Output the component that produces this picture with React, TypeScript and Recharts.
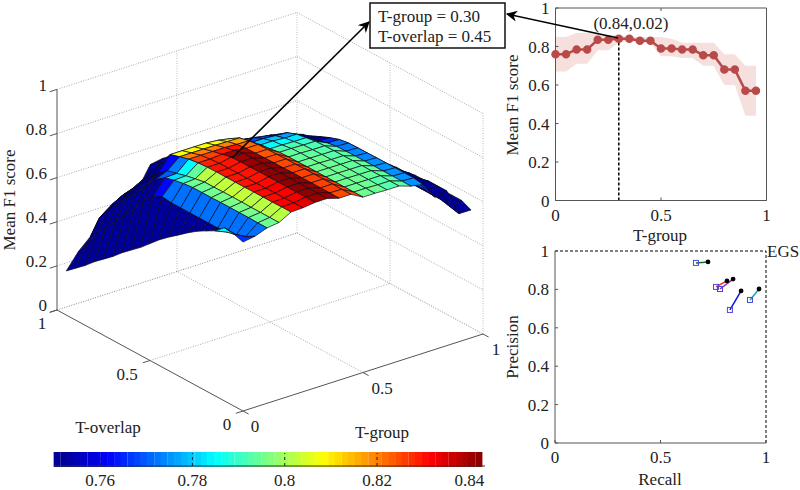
// App.tsx: 3D parameter sweep surface, best-overlap profile and precision/recall panel

import React from "react";
import {
  Area,
  Bar,
  BarChart,
  Cell,
  ComposedChart,
  Line,
  ReferenceLine,
  Scatter,
  ScatterChart,
  XAxis,
  YAxis,
} from "recharts";

// --- Data ---

const tGroup = [0, 0.05, 0.1, 0.15, 0.2, 0.25, 0.3, 0.35, 0.4, 0.45, 0.5, 0.55, 0.6, 0.65, 0.7, 0.75, 0.8, 0.85, 0.9, 0.95];
const tOverlap = [0, 0.05, 0.1, 0.15, 0.2, 0.25, 0.3, 0.35, 0.4, 0.45, 0.5, 0.55, 0.6, 0.65, 0.7, 0.75, 0.8, 0.85, 0.9, 0.95];

// one row per T-overlap, one column per T-group
const meanF1 = [
  [0.766, 0.775, 0.795, 0.802, 0.832, 0.834, 0.841, 0.841, 0.825, 0.825, 0.795, 0.795, 0.793, 0.793, 0.775, 0.765, 0.69, 0.7, 0.58, 0.58],
  [0.78, 0.75, 0.795, 0.802, 0.832, 0.833, 0.842, 0.842, 0.826, 0.825, 0.795, 0.795, 0.793, 0.793, 0.775, 0.772, 0.7, 0.7, 0.59, 0.6],
  [0.785, 0.735, 0.796, 0.802, 0.831, 0.832, 0.842, 0.842, 0.826, 0.826, 0.795, 0.795, 0.794, 0.794, 0.775, 0.772, 0.7, 0.7, 0.6, 0.6],
  [0.748, 0.725, 0.796, 0.802, 0.831, 0.832, 0.842, 0.842, 0.826, 0.826, 0.795, 0.795, 0.794, 0.794, 0.775, 0.772, 0.69, 0.69, 0.6, 0.6],
  [0.725, 0.72, 0.796, 0.803, 0.831, 0.831, 0.842, 0.842, 0.826, 0.826, 0.795, 0.795, 0.794, 0.794, 0.775, 0.772, 0.69, 0.69, 0.6, 0.6],
  [0.7, 0.72, 0.796, 0.803, 0.83, 0.83, 0.842, 0.842, 0.826, 0.826, 0.795, 0.795, 0.794, 0.794, 0.774, 0.772, 0.68, 0.68, 0.6, 0.6],
  [0.67, 0.72, 0.795, 0.803, 0.83, 0.83, 0.842, 0.842, 0.825, 0.825, 0.795, 0.795, 0.793, 0.793, 0.774, 0.771, 0.68, 0.68, 0.6, 0.6],
  [0.637, 0.72, 0.795, 0.802, 0.83, 0.83, 0.841, 0.841, 0.825, 0.825, 0.794, 0.794, 0.793, 0.793, 0.773, 0.771, 0.67, 0.67, 0.59, 0.59],
  [0.605, 0.72, 0.795, 0.802, 0.83, 0.83, 0.841, 0.841, 0.824, 0.824, 0.794, 0.794, 0.792, 0.792, 0.772, 0.77, 0.67, 0.67, 0.59, 0.59],
  [0.57, 0.72, 0.79, 0.794, 0.829, 0.829, 0.84, 0.84, 0.823, 0.823, 0.792, 0.792, 0.79, 0.79, 0.765, 0.763, 0.66, 0.66, 0.58, 0.58],
  [0.53, 0.725, 0.782, 0.785, 0.826, 0.826, 0.83, 0.83, 0.822, 0.822, 0.785, 0.785, 0.783, 0.783, 0.75, 0.748, 0.65, 0.65, 0.57, 0.57],
  [0.49, 0.7, 0.77, 0.773, 0.82, 0.82, 0.82, 0.82, 0.817, 0.816, 0.78, 0.78, 0.776, 0.776, 0.73, 0.73, 0.64, 0.64, 0.56, 0.56],
  [0.455, 0.66, 0.74, 0.762, 0.808, 0.808, 0.808, 0.808, 0.807, 0.806, 0.768, 0.768, 0.764, 0.76, 0.71, 0.71, 0.63, 0.63, 0.56, 0.56],
  [0.42, 0.6, 0.69, 0.73, 0.795, 0.795, 0.795, 0.795, 0.79, 0.78, 0.755, 0.75, 0.74, 0.73, 0.69, 0.69, 0.62, 0.62, 0.55, 0.55],
  [0.38, 0.55, 0.634, 0.68, 0.73, 0.74, 0.74, 0.74, 0.74, 0.74, 0.72, 0.72, 0.7, 0.69, 0.66, 0.66, 0.61, 0.61, 0.54, 0.54],
  [0.345, 0.5, 0.59, 0.63, 0.67, 0.68, 0.69, 0.7, 0.7, 0.7, 0.69, 0.68, 0.67, 0.66, 0.64, 0.64, 0.6, 0.6, 0.54, 0.54],
  [0.31, 0.45, 0.54, 0.58, 0.61, 0.62, 0.64, 0.66, 0.66, 0.66, 0.65, 0.65, 0.64, 0.63, 0.61, 0.61, 0.58, 0.58, 0.53, 0.53],
  [0.27, 0.4, 0.49, 0.53, 0.55, 0.56, 0.58, 0.62, 0.62, 0.62, 0.62, 0.61, 0.6, 0.59, 0.58, 0.58, 0.55, 0.55, 0.53, 0.52],
  [0.235, 0.33, 0.43, 0.47, 0.5, 0.51, 0.53, 0.59, 0.59, 0.59, 0.59, 0.58, 0.57, 0.56, 0.55, 0.55, 0.53, 0.53, 0.52, 0.51],
  [0.2, 0.27, 0.32, 0.375, 0.43, 0.445, 0.47, 0.56, 0.57, 0.57, 0.57, 0.56, 0.55, 0.54, 0.53, 0.53, 0.52, 0.52, 0.5, 0.49],
];

// shade of the cells next to the T-group = 0.05 line, which read lighter than their height
const secondColumnShade = [0.772, 0.772, 0.772, 0.772, 0.772, 0.772, 0.772, 0.772, 0.772, 0.772, 0.762, 0.752, 0.7, 0.7, 0.7, 0.7, 0.7, 0.7, 0.7];

const colorLevels = [
  0.7507, 0.7522, 0.7536, 0.7551, 0.7565, 0.758, 0.7594, 0.7609, 0.7623, 0.7638, 0.7652, 0.7667, 0.7681, 0.7696, 0.771, 0.7725,
  0.7739, 0.7754, 0.7768, 0.7783, 0.7797, 0.7812, 0.7826, 0.7841, 0.7855, 0.787, 0.7884, 0.7899, 0.7913, 0.7928, 0.7942, 0.7957,
  0.7971, 0.7986, 0.8, 0.8015, 0.8029, 0.8044, 0.8058, 0.8073, 0.8087, 0.8102, 0.8116, 0.8131, 0.8145, 0.816, 0.8174, 0.8189,
  0.8203, 0.8218, 0.8232, 0.8247, 0.8261, 0.8276, 0.829, 0.8305, 0.8319, 0.8334, 0.8348, 0.8363, 0.8377, 0.8392, 0.8406, 0.8421,
];
const colorTicks = [0.76, 0.78, 0.8, 0.82, 0.84];

const bestScore = [0.76, 0.76, 0.785, 0.785, 0.835, 0.835, 0.84, 0.84, 0.83, 0.83, 0.79, 0.79, 0.785, 0.785, 0.755, 0.755, 0.68, 0.68, 0.57, 0.57];
const bestLow = [0.67, 0.67, 0.71, 0.71, 0.78, 0.78, 0.82, 0.83, 0.82, 0.82, 0.75, 0.75, 0.74, 0.74, 0.7, 0.7, 0.6, 0.6, 0.44, 0.44];
const bestHigh = [0.85, 0.85, 0.87, 0.87, 0.87, 0.86, 0.86, 0.85, 0.85, 0.85, 0.85, 0.84, 0.82, 0.82, 0.82, 0.82, 0.76, 0.76, 0.7, 0.7];

const recallEnd = [0.725, 0.815, 0.844, 0.882, 0.967];
const precisionEnd = [0.943, 0.844, 0.854, 0.792, 0.802];
const recallStart = [0.668, 0.763, 0.782, 0.829, 0.924];
const precisionStart = [0.938, 0.813, 0.802, 0.693, 0.745];
const linkColors = ["#0a7a1e", "#e0302a", "#a020c0", "#1414d8", "#18a8b8"];

const fitRows = tGroup.map((g, i) => ({ g, score: bestScore[i], band: [bestLow[i], bestHigh[i]] }));
const startPoints = recallStart.map((r, i) => ({ r, p: precisionStart[i] }));
const endPoints = recallEnd.map((r, i) => ({ r, p: precisionEnd[i] }));
const colorRows = colorLevels.map((level) => ({ level, v: 1 }));

// --- Helpers ---

const SERIF = '"Liberation Serif", serif';
const AXIS = "#555";
const GRID = "#aaa";

// parallel projection of the box: origin, then the pixel vectors of the three axes
const project = (g: number, o: number, z: number) => ({
  x: 243 + 240 * g - 186 * o,
  y: 411 - 77 * g - 101 * o - 220.6 * z,
});

const jet = (value: number) => {
  const t = Math.max(0.025, Math.min(1, (value - 0.75) / 0.0934));
  const ch = (c: number) => Math.round(255 * Math.max(0, Math.min(1, 1.5 - Math.abs(4 * t - c))));
  return `rgb(${ch(3)},${ch(2)},${ch(1)})`;
};

const cells: any[] = [];
for (let r = tOverlap.length - 2; r >= 0; r--) {
  for (let c = tGroup.length - 2; c >= 0; c--) {
    const corners = [
      project(tGroup[c], tOverlap[r], meanF1[r][c]),
      project(tGroup[c + 1], tOverlap[r], meanF1[r][c + 1]),
      project(tGroup[c + 1], tOverlap[r + 1], meanF1[r + 1][c + 1]),
      project(tGroup[c], tOverlap[r + 1], meanF1[r + 1][c]),
    ];
    cells.push({
      px: corners[0].x,
      py: corners[0].y,
      corners,
      fill: jet(c === 1 ? secondColumnShade[r] : meanF1[r][c]),
    });
  }
}

const SurfaceCell = (props: any) => {
  const { cx, cy, payload } = props;
  const points = payload.corners
    .map((p: any) => `${cx + p.x - payload.px},${cy + p.y - payload.py}`)
    .join(" ");
  return <polygon points={points} fill={payload.fill} stroke="#0a0a1a" strokeWidth={0.7} strokeLinejoin="round" />;
};

const seg = (a: { x: number; y: number }, b: { x: number; y: number }) => [a, b] as any;

const BoxLine = (a: any, b: any, key: string, stroke = GRID, dash = "1 1.5") => (
  <ReferenceLine key={key} segment={seg(a, b)} stroke={stroke} strokeDasharray={dash} ifOverflow="visible" />
);

const zLevels = [0.2, 0.4, 0.6, 0.8, 1];

const Surface3D = () => (
  <ScatterChart width={800} height={490} margin={{ top: 0, right: 0, bottom: 0, left: 0 }} style={{ position: "absolute", left: 0, top: 0 }}>
    <XAxis dataKey="px" type="number" domain={[0, 800]} hide />
    <YAxis dataKey="py" type="number" domain={[0, 490]} reversed hide />
    {/* back walls */}
    {zLevels.map((z) => BoxLine(project(0, 1, z), project(1, 1, z), `l${z}`))}
    {zLevels.map((z) => BoxLine(project(1, 1, z), project(1, 0, z), `r${z}`))}
    {[0.5, 1].map((g) => BoxLine(project(g, 1, 0), project(g, 1, 1), `vl${g}`, "#bbb"))}
    {[0.5, 0].map((o) => BoxLine(project(1, o, 0), project(1, o, 1), `vr${o}`, "#bbb"))}
    {/* floor */}
    {BoxLine(project(0, 1, 0), project(1, 1, 0), "f1", "#888")}
    {BoxLine(project(1, 1, 0), project(1, 0, 0), "f2", "#888")}
    {BoxLine(project(0, 0.5, 0), project(1, 0.5, 0), "f3")}
    {BoxLine(project(0.5, 0, 0), project(0.5, 1, 0), "f4")}
    {/* front axes */}
    {BoxLine(project(0, 1, 0), project(0, 1, 1), "a1", AXIS, "")}
    {BoxLine(project(0, 1, 0), project(0, 0, 0), "a2", AXIS, "")}
    {BoxLine(project(0, 0, 0), project(1, 0, 0), "a3", AXIS, "")}
    {[0, 0.2, 0.4, 0.6, 0.8, 1].map((z) => BoxLine(project(0, 1, z), project(-0.03, 1, z), `tz${z}`, AXIS, ""))}
    {[0, 0.5, 1].map((o) => BoxLine(project(0, o, 0), project(-0.03, o, 0), `to${o}`, AXIS, ""))}
    {[0, 0.5, 1].map((g) => BoxLine(project(g, 0, 0), project(g, -0.03, 0), `tg${g}`, AXIS, ""))}
    <Scatter data={cells} shape={SurfaceCell} isAnimationActive={false} />
  </ScatterChart>
);

const tickFont = { fontFamily: SERIF, fontSize: 17, fill: "#222" };
const blank = () => "";

const BestProfile = () => (
  <ComposedChart
    width={300}
    height={240}
    data={fitRows}
    margin={{ top: 7, right: 32.5, bottom: 38.5, left: 54.5 }}
    style={{ position: "absolute", left: 500, top: 0 }}
  >
    <XAxis xAxisId="b" dataKey="g" type="number" domain={[0, 1]} ticks={[0, 0.5, 1]} interval={0} height={1} tickSize={-3} tickMargin={11} tick={tickFont} stroke={AXIS} />
    <XAxis xAxisId="t" orientation="top" dataKey="g" type="number" domain={[0, 1]} ticks={[0, 0.5, 1]} interval={0} height={1} tickSize={-3} tickFormatter={blank} stroke={AXIS} />
    <YAxis yAxisId="l" type="number" domain={[0, 1]} ticks={[0, 0.2, 0.4, 0.6, 0.8, 1]} interval={0} width={1} tickSize={-3} tickMargin={9} tick={tickFont} stroke={AXIS} />
    <YAxis yAxisId="r" orientation="right" type="number" domain={[0, 1]} ticks={[0, 0.2, 0.4, 0.6, 0.8, 1]} interval={0} width={1} tickSize={-3} tickFormatter={blank} stroke={AXIS} />
    <Area xAxisId="b" yAxisId="l" dataKey="band" stroke="none" fill="#f5e0de" fillOpacity={1} isAnimationActive={false} />
    <ReferenceLine xAxisId="b" yAxisId="l" segment={[{ x: 0.3, y: 0 }, { x: 0.3, y: 0.84 }]} stroke="#000" strokeWidth={1.5} strokeDasharray="3 2" />
    <Line xAxisId="b" yAxisId="l" dataKey="score" stroke="#b94a4a" strokeWidth={2.5} dot={{ r: 3, fill: "#b94a4a", stroke: "#b94a4a" }} isAnimationActive={false} />
  </ComposedChart>
);

const Square = (props: any) => (
  <rect x={props.cx - 2.5} y={props.cy - 2.5} width={5} height={5} fill="none" stroke="#4a48dc" strokeWidth={1} />
);
const Dot = (props: any) => <circle cx={props.cx} cy={props.cy} r={2.4} fill="#000" />;
const NoMark = () => <g />;

const PrecisionRecall = () => (
  <ScatterChart
    width={300}
    height={240}
    margin={{ top: 11, right: 34, bottom: 36, left: 54 }}
    style={{ position: "absolute", left: 500, top: 240 }}
  >
    <XAxis dataKey="r" type="number" domain={[0, 1]} ticks={[0, 0.5, 1]} interval={0} height={1} tickSize={-3} tickMargin={11} tick={tickFont} stroke={AXIS} />
    <YAxis dataKey="p" type="number" domain={[0, 1]} ticks={[0, 0.2, 0.4, 0.6, 0.8, 1]} interval={0} width={1} tickSize={-3} tickMargin={9} tick={tickFont} stroke={AXIS} />
    <ReferenceLine y={1} stroke="#000" strokeDasharray="3 2" />
    <ReferenceLine x={1} stroke="#000" strokeDasharray="3 2" />
    {linkColors.map((color, i) => (
      <Scatter key={color} data={[startPoints[i], endPoints[i]]} line={{ stroke: color, strokeWidth: 1.5 }} shape={NoMark} isAnimationActive={false} />
    ))}
    <Scatter data={startPoints} shape={Square} isAnimationActive={false} />
    <Scatter data={endPoints} shape={Dot} isAnimationActive={false} />
  </ScatterChart>
);

const ColorBar = () => (
  <BarChart
    width={470}
    height={38}
    data={colorRows}
    margin={{ top: 1, right: 25, bottom: 23, left: 14 }}
    style={{ position: "absolute", left: 40, top: 452 }}
  >
    <XAxis dataKey="level" type="number" domain={[0.75, 0.8434]} ticks={colorTicks} interval={0} height={1} tickSize={-15} tickMargin={23} tick={tickFont} axisLine={{ stroke: "#333" }} tickLine={false} tickFormatter={(v) => String(v)} />
    <YAxis type="number" domain={[0, 1]} hide />
    <Bar dataKey="v" isAnimationActive={false}>
      {colorRows.map((row) => (
        <Cell key={row.level} fill={jet(row.level)} stroke={jet(row.level)} strokeWidth={2} />
      ))}
    </Bar>
    {colorTicks.map((t) => (
      <ReferenceLine key={t} x={t} stroke="#222" strokeDasharray="3 3" />
    ))}
  </BarChart>
);

// --- Labels and arrows on top of all panels ---

const Label = ({ x, y, children, anchor = "middle", rotate }: any) => (
  <text
    x={x}
    y={y}
    textAnchor={anchor}
    style={{ fontFamily: SERIF, fontSize: 17, fill: "#222" }}
    transform={rotate ? `rotate(${rotate} ${x} ${y})` : undefined}
  >
    {children}
  </text>
);

const Overlay = () => (
  <svg width={800} height={490} style={{ position: "absolute", left: 0, top: 0 }}>
    <defs>
      <marker id="head" viewBox="0 0 10 10" refX="9" refY="5" markerWidth="7" markerHeight="7" orient="auto">
        <path d="M0 0 L10 5 L0 10 L3 5 Z" fill="#000" />
      </marker>
    </defs>
    <line x1={232} y1={158} x2={369} y2={22} stroke="#000" strokeWidth={1.6} markerEnd="url(#head)" />
    <line x1={618} y1={38} x2={507} y2={14} stroke="#000" strokeWidth={1.6} markerEnd="url(#head)" />
    <rect x={370} y={3} width={135} height={45} fill="#fff" stroke="#111" strokeWidth={1.5} />
    <Label x={378} y={22} anchor="start">T-group = 0.30</Label>
    <Label x={378} y={42} anchor="start">T-overlap = 0.45</Label>
    <Label x={631} y={29}>(0.84,0.02)</Label>

    {["1", "0.8", "0.6", "0.4", "0.2", "0"].map((t, i) => (
      <Label key={t} x={47} y={91 + i * 43.9} anchor="end">{t}</Label>
    ))}
    <Label x={42} y={329}>1</Label>
    <Label x={127} y={380}>0.5</Label>
    <Label x={227} y={430}>0</Label>
    <Label x={255} y={432}>0</Label>
    <Label x={382} y={394}>0.5</Label>
    <Label x={496} y={355}>1</Label>
    <Label x={108} y={433}>T-overlap</Label>
    <Label x={382} y={438}>T-group</Label>
    <Label x={15} y={200} rotate={-90}>Mean F1 score</Label>

    <Label x={518} y={105} rotate={-90}>Mean F1 score</Label>
    <Label x={660} y={241}>T-group</Label>
    <Label x={518} y={347} rotate={-90}>Precision</Label>
    <Label x={660} y={485}>Recall</Label>
    <Label x={767} y={257} anchor="start">EGS</Label>
  </svg>
);

export default function App() {
  return (
    <div style={{ position: "absolute", left: 0, top: 0, width: 800, height: 490, background: "#fff", overflow: "hidden" }}>
      <Surface3D />
      <BestProfile />
      <PrecisionRecall />
      <ColorBar />
      <Overlay />
    </div>
  );
}
